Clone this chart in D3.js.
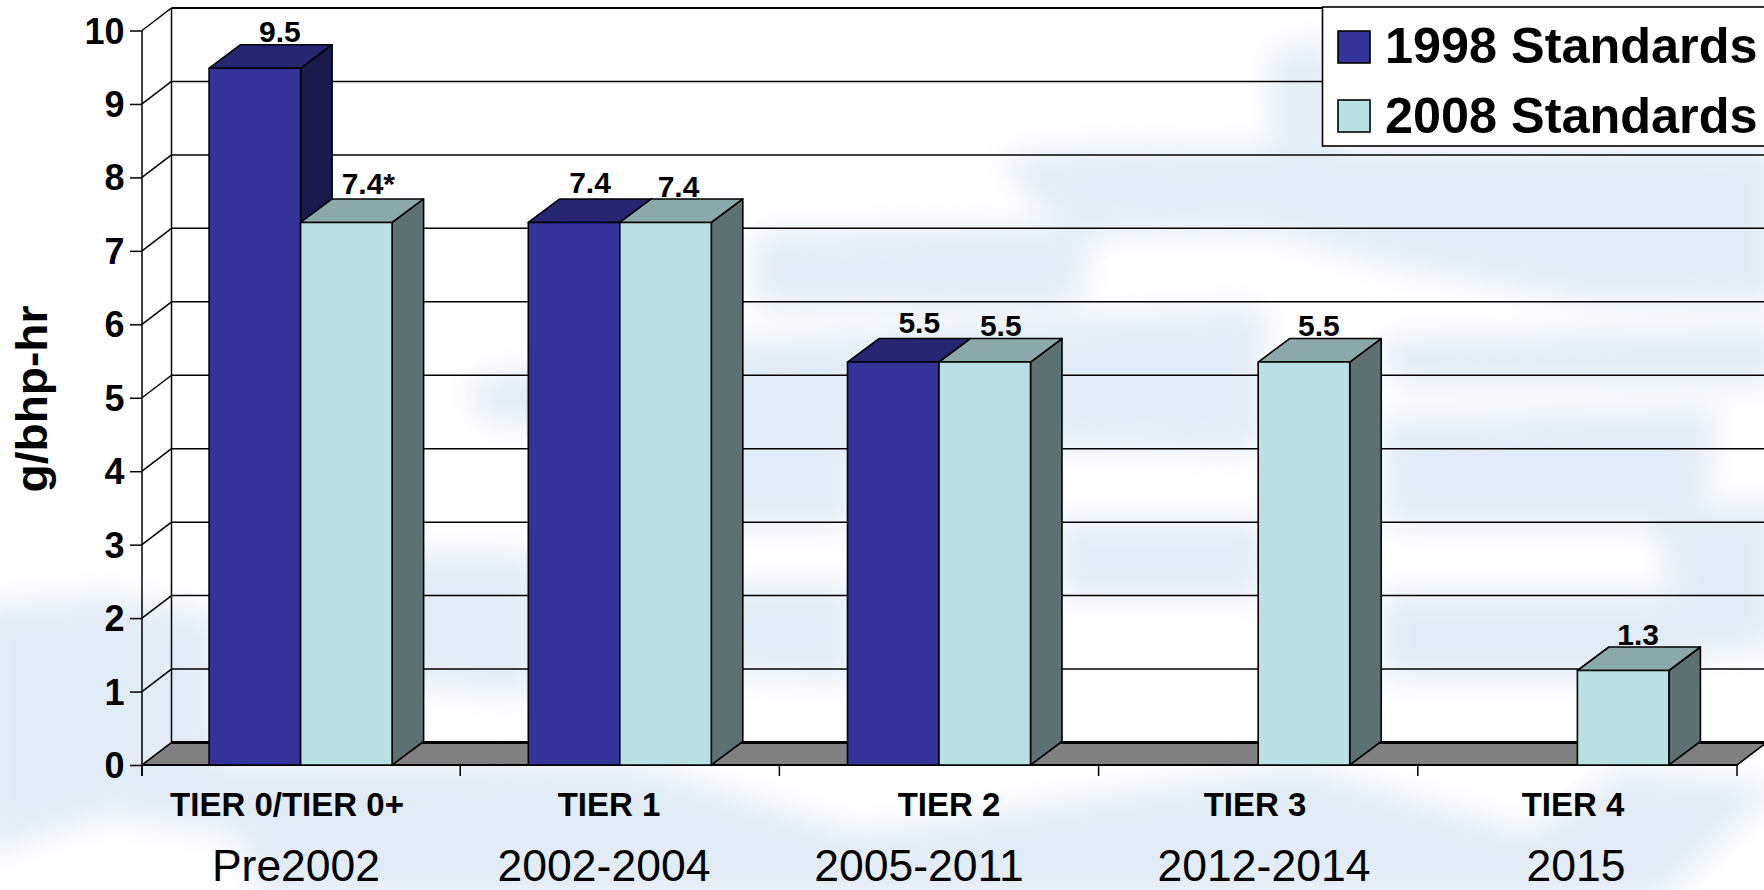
<!DOCTYPE html>
<html>
<head>
<meta charset="utf-8">
<script src="https://cdnjs.cloudflare.com/ajax/libs/d3/7.8.5/d3.min.js"></script>
<style>
html,body{margin:0;padding:0;background:#fff;overflow:hidden}
svg{display:block}
text{font-family:"Liberation Sans",Arial,sans-serif;fill:#000}
</style>
</head>
<body>
<div id="chart"></div>
<script>
// ---- data ----
const categories = ["TIER 0/TIER 0+", "TIER 1", "TIER 2", "TIER 3", "TIER 4"];
const periods = ["Pre2002", "2002-2004", "2005-2011", "2012-2014", "2015"];
const seriesNames = ["1998 Standards", "2008 Standards"];
const standards1998 = [9.5, 7.4, 5.5, null, null];
const standards2008 = [7.4, 7.4, 5.5, 5.5, 1.3];
const labels1998 = ["9.5", "7.4", "5.5", "", ""];
const labels2008 = ["7.4*", "7.4", "5.5", "5.5", "1.3"];
const yTicks = [0, 1, 2, 3, 4, 5, 6, 7, 8, 9, 10];

// ---- layout ----
const W = 1764, H = 890;
const x0 = 142, bandStart = 141, x1 = 1737, yBase = 765, yTop = 30.5;
const depthX = 29.5, depthY = -22.5;       // wall offset
const barDepthX = 31.5, barDepthY = -23.5; // bar block offset
const barTopInset = 1;
const groupW = 183;
const colors = [
  {front:"#333399", top:"#262673", side:"#1a1a4d"},
  {front:"#b9e0e3", top:"#8ba8aa", side:"#5d7072"}
];
// hand placed text anchors of the slide
const tierCentres = [287, 609, 949, 1255, 1573];
const periodCentres = [296, 604, 919, 1264, 1576];
const labelNudge1998 = [[25,-3],[16,-6],[26,-5.5]];
const labelNudge2008 = [[22,-5],[13,-2],[16,-2.5],[15,-2.5],[15,-2.5]];

const y = d3.scaleLinear().domain([0, 10]).range([yBase, yTop]);
const x = d3.scaleBand().domain(categories).range([bandStart, x1]).padding(0);
const xs = d3.scaleBand().domain(seriesNames).range([-groupW/2, groupW/2]).padding(0);

const svg = d3.select("#chart").append("svg").attr("width", W).attr("height", H).attr("viewBox", `0 0 ${W} ${H}`);

// ---- blurred slide backdrop ----
const defs = svg.append("defs");
const f = defs.append("filter").attr("id","soft").attr("filterUnits","userSpaceOnUse")
  .attr("x",-60).attr("y",-60).attr("width",W+120).attr("height",H+120);
f.append("feGaussianBlur").attr("stdDeviation", 15);
svg.append("rect").attr("width", W).attr("height", H).attr("fill", "#fff");
const blueBlobs = [
  [[1270,50],[1335,40],[1335,155],[1275,155]],
  [[1000,155],[1100,148],[1780,145],[1780,232],[1100,234],[1040,210]],
  [[755,232],[1095,224],[1075,308],[755,308]],
  [[1245,226],[1780,226],[1780,306],[1600,304],[1400,268]],
  [[470,378],[755,340],[1265,306],[1265,452],[900,446],[480,421]],
  [[1380,338],[1780,328],[1780,384],[1395,384]],
  [[1380,418],[1718,408],[1702,527],[1385,527]],
  [[1058,518],[1265,518],[1265,597],[1058,597]],
  [[1652,518],[1780,498],[1780,647],[1692,657]],
  [[1380,591],[1688,591],[1688,679],[1380,679]],
  [[704,585],[854,583],[854,682],[704,672]],
  [[704,423],[854,413],[854,527],[704,527]],
  [[385,553],[537,553],[537,697],[385,682]],
  [[-20,605],[110,595],[218,615],[218,795],[110,815],[-20,855]],
  [[95,760],[640,765],[860,832],[1300,765],[1530,832],[1620,770],[1780,785],[1660,900],[265,900],[235,835],[110,815]]
];
svg.append("g").attr("filter","url(#soft)").selectAll("polygon").data(blueBlobs).join("polygon")
  .attr("points", d => d.map(p => p.join(",")).join(" "))
  .attr("fill", "#e2ecf6");

// ---- walls and gridlines ----
const wall = svg.append("g").attr("stroke", "#000").attr("fill", "none");
wall.append("g").selectAll("line").data(yTicks.filter(d => d > 0)).join("line")
  .attr("x1", x0 + depthX).attr("x2", W + 2)
  .attr("y1", d => y(d) + depthY).attr("y2", d => y(d) + depthY)
  .attr("stroke-width", d => d === 10 ? 2 : 1.5);
wall.append("g").selectAll("line").data(yTicks.filter(d => d > 0)).join("line")
  .attr("x1", x0).attr("x2", x0 + depthX)
  .attr("y1", d => y(d)).attr("y2", d => y(d) + depthY)
  .attr("stroke-width", 1.5);
wall.append("line").attr("x1", x0 + depthX).attr("x2", x0 + depthX)
  .attr("y1", y(10) + depthY).attr("y2", y(0) + depthY).attr("stroke-width", 1.5);

// ---- floor ----
svg.append("polygon")
  .attr("points", [[x0,yBase],[x1,yBase],[x1+depthX,yBase+depthY],[x0+depthX,yBase+depthY]].map(p=>p.join(",")).join(" "))
  .attr("fill", "#808080").attr("stroke", "#000").attr("stroke-width", 1.6);
svg.append("line").attr("x1", x0 + depthX).attr("x2", W + 2)
  .attr("y1", yBase + depthY).attr("y2", yBase + depthY).attr("stroke", "#000").attr("stroke-width", 3);

// ---- y axis ----
const yAxis = d3.axisLeft(y).tickValues(yTicks).tickSize(12).tickPadding(6).tickFormat(d3.format("d"));
const yG = svg.append("g").attr("transform", `translate(${x0},0)`).call(yAxis);
yG.select(".domain").attr("d", `M0,${yTop}V${yBase + 11}`).attr("stroke", "#000").attr("stroke-width", 1.5).attr("fill","none");
yG.selectAll(".tick line").attr("stroke", "#000").attr("stroke-width", 1.5);
yG.selectAll(".tick text").attr("font-size", 36).attr("font-weight", "bold")
  .attr("font-family", '"Liberation Sans",Arial,sans-serif').attr("fill","#000")
  .attr("x", -17.5).attr("dy", 12.5);

// ---- x axis ----
const edges = categories.slice(1).map(c => x(c)).concat([x0, x1]);
const xG = svg.append("g").attr("stroke", "#000");
xG.append("line").attr("x1", x0).attr("x2", x1).attr("y1", yBase).attr("y2", yBase).attr("stroke-width", 2);
xG.selectAll(".t").data(edges).join("line").attr("class","t")
  .attr("x1", d => d).attr("x2", d => d).attr("y1", yBase).attr("y2", yBase + 11).attr("stroke-width", 1.5);

// ---- 3-D bars ----
const poly = p => p.map(q => q.join(",")).join(" ");
const barData = [];
categories.forEach((c, i) => {
  [standards1998, standards2008].forEach((vals, s) => {
    if (vals[i] != null) barData.push({cat:c, s, v:vals[i], i});
  });
});
const bars = svg.append("g").selectAll("g").data(barData).join("g")
  .attr("stroke", "#000").attr("stroke-width", 1.6).attr("stroke-linejoin", "round");
const bx = d => x(d.cat) + x.bandwidth()/2 + xs(seriesNames[d.s]);
const bt = d => y(d.v) + barTopInset;
bars.append("polygon").attr("fill", d => colors[d.s].side).attr("points", d => {
  const r = bx(d) + xs.bandwidth(), t = bt(d);
  return poly([[r,t],[r+barDepthX,t+barDepthY],[r+barDepthX,yBase+barDepthY],[r,yBase]]);
});
bars.append("polygon").attr("fill", d => colors[d.s].top).attr("points", d => {
  const l = bx(d), r = l + xs.bandwidth(), t = bt(d);
  return poly([[l,t],[r,t],[r+barDepthX,t+barDepthY],[l+barDepthX,t+barDepthY]]);
});
bars.append("rect").attr("fill", d => colors[d.s].front)
  .attr("x", bx).attr("width", xs.bandwidth())
  .attr("y", bt).attr("height", d => yBase - bt(d));

// ---- value labels ----
const valueLabels = barData.map(d => ({
  d,
  text: (d.s === 0 ? labels1998 : labels2008)[d.i],
  nudge: (d.s === 0 ? labelNudge1998 : labelNudge2008)[d.i]
}));
svg.append("g").selectAll("text").data(valueLabels).join("text")
  .attr("text-anchor", "middle").attr("font-size", 30).attr("font-weight", "bold")
  .attr("x", l => bx(l.d) + xs.bandwidth()/2 + l.nudge[0])
  .attr("y", l => bt(l.d) + barDepthY + l.nudge[1])
  .text(l => l.text);

// ---- category labels ----
svg.append("g").selectAll("text").data(categories).join("text")
  .attr("text-anchor", "middle").attr("font-size", 33).attr("font-weight", "bold")
  .attr("x", (d,i) => tierCentres[i]).attr("y", 816).text(d => d);
svg.append("g").selectAll("text").data(periods).join("text")
  .attr("text-anchor", "middle").attr("font-size", 44.5)
  .attr("x", (d,i) => periodCentres[i]).attr("y", 880.5).text(d => d);

// ---- axis title ----
svg.append("text").attr("transform", "translate(47,399) rotate(-90)")
  .attr("text-anchor", "middle").attr("font-size", 44).attr("font-weight", "bold")
  .attr("textLength", 187).attr("lengthAdjust", "spacingAndGlyphs").text("g/bhp-hr");

// ---- legend ----
const lg = svg.append("g");
lg.append("rect").attr("x", 1322.5).attr("y", 7).attr("width", 460).attr("height", 139)
  .attr("fill", "#fff").attr("stroke", "#000").attr("stroke-width", 1.6);
const rows = lg.selectAll(".row").data(seriesNames).join("g").attr("class","row");
rows.append("rect").attr("x", 1338).attr("y", (d,i) => 31 + i*69).attr("width", 32).attr("height", 32)
  .attr("fill", (d,i) => colors[i].front).attr("stroke", "#000").attr("stroke-width", 1.6);
rows.append("text").attr("x", 1385).attr("y", (d,i) => 63 + i*69.5)
  .attr("font-size", 50.4).attr("font-weight", "bold").text(d => d);
</script>
</body>
</html>
